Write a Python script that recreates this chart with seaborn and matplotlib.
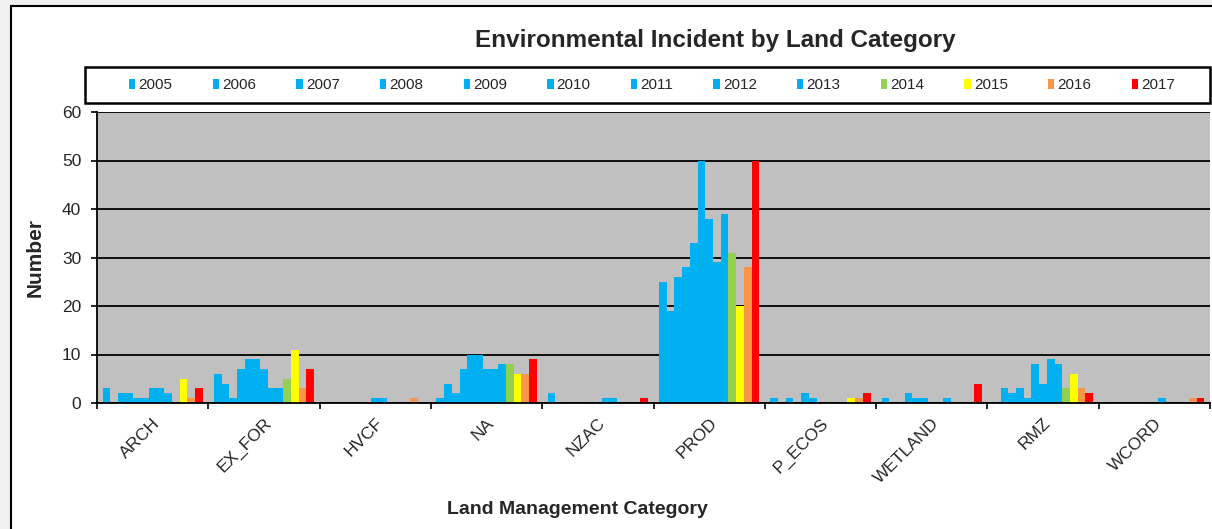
import numpy as np
import pandas as pd
import matplotlib
matplotlib.use("Agg")
import matplotlib.pyplot as plt
import matplotlib.patches as mpatches
import seaborn as sns

categories = ["ARCH", "EX_FOR", "HVCF", "NA", "NZAC", "PROD", "P_ECOS", "WETLAND", "RMZ", "WCORD"]
years = ["2005", "2006", "2007", "2008", "2009", "2010", "2011", "2012", "2013", "2014", "2015", "2016", "2017"]

arch    = [3, 0, 2, 2, 1, 1, 3, 3, 2, 0, 5, 1, 3]
ex_for  = [6, 4, 1, 7, 9, 9, 7, 3, 3, 5, 11, 3, 7]
hvcf    = [0, 0, 0, 0, 0, 0, 1, 1, 0, 0, 0, 1, 0]
na      = [1, 4, 2, 7, 10, 10, 7, 7, 8, 8, 6, 6, 9]
nzac    = [2, 0, 0, 0, 0, 0, 0, 1, 1, 0, 0, 0, 1]
prod    = [25, 19, 26, 28, 33, 50, 38, 29, 39, 31, 20, 28, 50]
p_ecos  = [1, 0, 1, 0, 2, 1, 0, 0, 0, 0, 1, 1, 2]
wetland = [1, 0, 0, 2, 1, 1, 0, 0, 1, 0, 0, 0, 4]
rmz     = [0, 3, 2, 3, 1, 8, 4, 9, 8, 3, 6, 3, 2]
wcord   = [0, 0, 0, 0, 0, 0, 0, 1, 0, 0, 0, 1, 1]

series_by_cat = [arch, ex_for, hvcf, na, nzac, prod, p_ecos, wetland, rmz, wcord]

BLUE = "#00B0F0"
year_colors = {y: BLUE for y in years[:9]}
year_colors.update({"2014": "#92D050", "2015": "#FFFF00", "2016": "#F79646", "2017": "#FF0000"})

rows = []
for cat, vals in zip(categories, series_by_cat):
    for y, v in zip(years, vals):
        rows.append({"Category": cat, "Year": y, "Number": v})
df = pd.DataFrame(rows)

sns.set_theme(style="white")
plt.rcParams["font.family"] = ["Liberation Sans", "DejaVu Sans"]

W, H = 1212, 529
fig = plt.figure(figsize=(W / 100, H / 100), dpi=100)
fig.patch.set_facecolor("#F0F0F0")
frame = mpatches.Rectangle((11 / W, -0.05), 1.2, (1 - 6 / H) + 0.05,
                           transform=fig.transFigure, facecolor="white",
                           edgecolor="black", linewidth=1.5, zorder=-10)
fig.add_artist(frame)

ax = fig.add_axes([97 / W, 1 - 403 / H, (1210 - 97) / W, (403 - 112) / H])
ax.set_facecolor("#C0C0C0")

sns.barplot(data=df, x="Category", y="Number", hue="Year", order=categories,
            hue_order=years, palette=year_colors, width=0.9, gap=0,
            linewidth=0, saturation=1, ax=ax, legend=False)

ax.set_xlim(-0.5, len(categories) - 0.5)
ax.set_ylim(0, 60)
ax.set_yticks(range(0, 61, 10))
ax.set_axisbelow(True)
ax.yaxis.grid(True, color="black", linewidth=1.3)
ax.xaxis.grid(False)

for s in ["top", "right"]:
    ax.spines[s].set_visible(False)
for s in ["left", "bottom"]:
    ax.spines[s].set_color("black")
    ax.spines[s].set_linewidth(1.3)

ax.set_xticks(range(len(categories)))
ax.set_xticklabels(categories, rotation=45, ha="right", rotation_mode="anchor", fontsize=12.5)
ax.tick_params(axis="x", which="major", length=0, pad=9)
ax.set_xticks(np.arange(-0.5, len(categories), 1.0), minor=True)
ax.tick_params(axis="x", which="minor", length=4.3, width=1.2, color="black", direction="out", bottom=True)
ax.tick_params(axis="y", length=4.3, width=1.2, color="black", direction="out", left=True, labelsize=12.5, pad=7)

ax.set_xlabel("Land Management Category", fontsize=14, fontweight="bold")
ax.xaxis.set_label_coords((577 - 97) / (1210 - 97), -(501 - 403) / (403 - 112))
ax.set_ylabel("Number", fontsize=15, fontweight="bold")
ax.yaxis.set_label_coords((45 - 97) / (1210 - 97), 0.5)

fig.text(715 / W, 1 - 40 / H, "Environmental Incident by Land Category",
         ha="center", va="center", fontsize=17.5, fontweight="bold")

# legend frame
legbox = mpatches.Rectangle((85 / W, 1 - 103 / H), (1210 - 85) / W, 36 / H,
                            transform=fig.transFigure, facecolor="white",
                            edgecolor="black", linewidth=1.8, zorder=1)
fig.add_artist(legbox)

handles = [mpatches.Patch(facecolor=year_colors[y], edgecolor="none", label=y) for y in years]
leg = fig.legend(handles=handles, loc="center", ncol=13,
                 bbox_to_anchor=(652 / W, 1 - 85 / H),
                 frameon=False, fontsize=11,
                 handlelength=0.42, handleheight=0.65, handletextpad=0.2,
                 columnspacing=2.63)
leg.set_zorder(2)

fig.savefig("out.png", dpi=100, facecolor=fig.get_facecolor())
